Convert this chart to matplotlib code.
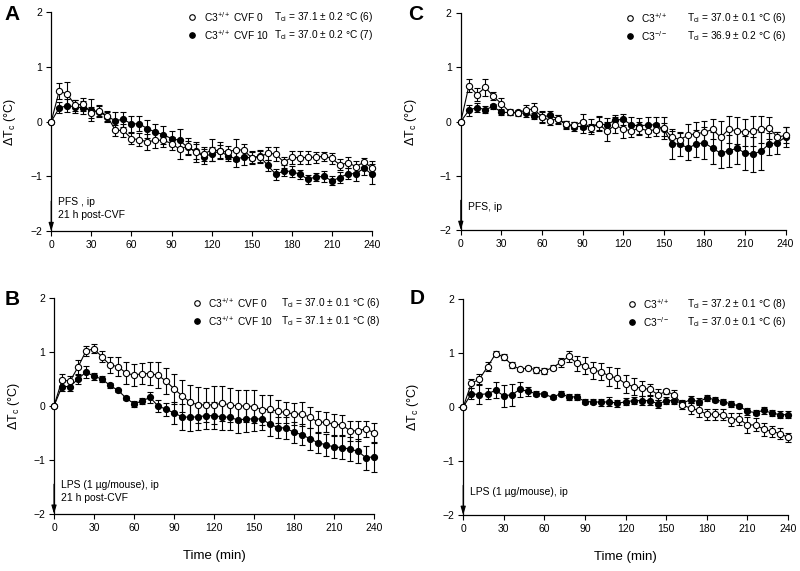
import matplotlib
matplotlib.use('Agg')
import matplotlib.pyplot as plt
import numpy as np

plt.rcParams['font.family'] = ['Liberation Sans', 'DejaVu Sans']
plt.rcParams['mathtext.default'] = 'regular'

# time points (min), every 6 min
t = list(range(0, 241, 6))

# panel A: PFS, CVF 0 (open) vs CVF 10 (filled)
a_open = [0, 0.56, 0.50, 0.30, 0.32, 0.16, 0.20, 0.10, -0.16, -0.16, -0.31, -0.33, -0.37, -0.34,
          -0.34, -0.40, -0.50, -0.45, -0.56, -0.59, -0.52, -0.53, -0.56, -0.51, -0.52, -0.66,
          -0.64, -0.58, -0.59, -0.74, -0.65, -0.66, -0.65, -0.65, -0.63, -0.67, -0.79, -0.75,
          -0.82, -0.74, -0.84]
a_open_err = [0, 0.14, 0.22, 0.1, 0.12, 0.1, 0.1, 0.08, 0.1, 0.12, 0.1, 0.12, 0.14, 0.15, 0.12,
              0.12, 0.18, 0.15, 0.18, 0.12, 0.2, 0.15, 0.12, 0.2, 0.12, 0.1, 0.12, 0.12, 0.12,
              0.1, 0.12, 0.12, 0.12, 0.1, 0.08, 0.1, 0.1, 0.1, 0.1, 0.08, 0.12]
a_fill = [0, 0.25, 0.29, 0.27, 0.25, 0.21, 0.18, 0.09, 0.02, 0.04, -0.04, -0.04, -0.13, -0.19,
          -0.24, -0.31, -0.34, -0.47, -0.54, -0.64, -0.59, -0.54, -0.62, -0.68, -0.65, -0.66,
          -0.63, -0.80, -0.96, -0.90, -0.91, -0.96, -1.05, -1.01, -1.00, -1.08, -1.02, -0.95,
          -0.95, -0.85, -0.96]
a_fill_err = [0, 0.1, 0.12, 0.12, 0.12, 0.2, 0.1, 0.1, 0.15, 0.14, 0.15, 0.14, 0.16, 0.14, 0.16,
              0.14, 0.2, 0.12, 0.14, 0.14, 0.12, 0.12, 0.1, 0.14, 0.14, 0.12, 0.1, 0.1, 0.1, 0.1,
              0.1, 0.08, 0.08, 0.08, 0.1, 0.08, 0.1, 0.1, 0.14, 0.12, 0.18]

# panel B: LPS, CVF 0 vs CVF 10
b_open = [0, 0.48, 0.46, 0.72, 1.02, 1.06, 0.91, 0.76, 0.73, 0.61, 0.57, 0.60, 0.60, 0.57,
          0.46, 0.32, 0.19, 0.07, 0.02, 0.02, 0.02, 0.05, 0.02, 0.0, 0.0, -0.01, -0.07, -0.06,
          -0.10, -0.12, -0.15, -0.15, -0.21, -0.30, -0.30, -0.34, -0.35, -0.46, -0.46, -0.42,
          -0.50]
b_open_err = [0, 0.12, 0.1, 0.14, 0.1, 0.08, 0.1, 0.15, 0.18, 0.2, 0.2, 0.2, 0.22, 0.24, 0.24,
              0.28, 0.3, 0.32, 0.34, 0.32, 0.35, 0.32, 0.32, 0.3, 0.3, 0.3, 0.28, 0.26, 0.22,
              0.2, 0.2, 0.22, 0.2, 0.2, 0.18, 0.2, 0.18, 0.18, 0.18, 0.15, 0.18]
b_fill = [0, 0.36, 0.36, 0.50, 0.63, 0.55, 0.50, 0.38, 0.29, 0.15, 0.04, 0.09, 0.16, 0.0,
          -0.06, -0.13, -0.20, -0.21, -0.20, -0.18, -0.18, -0.20, -0.21, -0.26, -0.24, -0.24,
          -0.24, -0.34, -0.40, -0.41, -0.49, -0.53, -0.61, -0.68, -0.72, -0.76, -0.77, -0.80,
          -0.84, -0.96, -0.94]
b_fill_err = [0, 0.08, 0.08, 0.1, 0.12, 0.07, 0.05, 0.05, 0.03, 0.03, 0.05, 0.06, 0.1, 0.12,
              0.12, 0.2, 0.24, 0.25, 0.25, 0.25, 0.25, 0.24, 0.24, 0.24, 0.24, 0.22, 0.2, 0.22,
              0.2, 0.2, 0.2, 0.2, 0.2, 0.2, 0.2, 0.2, 0.22, 0.22, 0.22, 0.22, 0.28]

# panel C: PFS, C3+/+ vs C3-/-
c_open = [0, 0.66, 0.50, 0.63, 0.47, 0.33, 0.18, 0.15, 0.22, 0.23, 0.09, 0.02, 0.05, -0.05,
          -0.07, 0.0, -0.12, -0.04, -0.18, -0.06, -0.14, -0.17, -0.12, -0.17, -0.15, -0.12,
          -0.29, -0.33, -0.25, -0.22, -0.20, -0.14, -0.29, -0.14, -0.17, -0.20, -0.17, -0.14,
          -0.12, -0.29, -0.25]
c_open_err = [0, 0.12, 0.12, 0.15, 0.08, 0.1, 0.05, 0.05, 0.08, 0.12, 0.1, 0.08, 0.08, 0.06,
              0.06, 0.14, 0.08, 0.14, 0.18, 0.15, 0.16, 0.12, 0.12, 0.12, 0.12, 0.2, 0.12, 0.12,
              0.2, 0.22, 0.22, 0.18, 0.3, 0.25, 0.25, 0.25, 0.28, 0.25, 0.2, 0.1, 0.15]
c_fill = [0, 0.21, 0.26, 0.22, 0.28, 0.17, 0.17, 0.17, 0.15, 0.10, 0.08, 0.12, 0.04, -0.06,
          -0.09, -0.09, -0.09, -0.04, -0.06, 0.03, 0.04, -0.06, -0.08, -0.06, -0.06, -0.14,
          -0.41, -0.41, -0.49, -0.41, -0.39, -0.49, -0.58, -0.54, -0.49, -0.58, -0.60, -0.54,
          -0.41, -0.39, -0.28]
c_fill_err = [0, 0.1, 0.08, 0.06, 0.05, 0.04, 0.05, 0.05, 0.06, 0.05, 0.1, 0.08, 0.08, 0.08,
              0.08, 0.12, 0.14, 0.12, 0.12, 0.1, 0.1, 0.14, 0.14, 0.15, 0.14, 0.12, 0.28, 0.22,
              0.22, 0.25, 0.3, 0.3, 0.28, 0.3, 0.3, 0.32, 0.32, 0.35, 0.2, 0.2, 0.18]

# panel D: LPS, C3+/+ vs C3-/-
d_open = [0, 0.44, 0.52, 0.75, 0.99, 0.93, 0.78, 0.70, 0.73, 0.69, 0.67, 0.73, 0.83, 0.94,
          0.81, 0.77, 0.68, 0.66, 0.57, 0.54, 0.43, 0.38, 0.35, 0.33, 0.23, 0.29, 0.23, 0.04,
          -0.02, -0.06, -0.13, -0.13, -0.14, -0.23, -0.22, -0.33, -0.33, -0.41, -0.45, -0.49,
          -0.56]
d_open_err = [0, 0.08, 0.1, 0.08, 0.05, 0.05, 0.05, 0.03, 0.03, 0.05, 0.05, 0.05, 0.08, 0.1,
              0.14, 0.15, 0.15, 0.15, 0.18, 0.18, 0.16, 0.16, 0.14, 0.1, 0.1, 0.05, 0.08, 0.08,
              0.1, 0.12, 0.1, 0.1, 0.1, 0.12, 0.12, 0.15, 0.12, 0.12, 0.1, 0.1, 0.08]
d_fill = [0, 0.25, 0.23, 0.25, 0.31, 0.21, 0.23, 0.33, 0.29, 0.25, 0.24, 0.18, 0.25, 0.19,
          0.19, 0.10, 0.10, 0.09, 0.10, 0.07, 0.10, 0.12, 0.12, 0.12, 0.06, 0.12, 0.12, 0.07,
          0.14, 0.10, 0.17, 0.14, 0.10, 0.06, 0.02, -0.08, -0.10, -0.06, -0.11, -0.14, -0.14]
d_fill_err = [0, 0.1, 0.18, 0.1, 0.15, 0.2, 0.2, 0.14, 0.08, 0.05, 0.04, 0.03, 0.04, 0.06,
              0.05, 0.05, 0.05, 0.06, 0.08, 0.07, 0.06, 0.06, 0.08, 0.08, 0.08, 0.06, 0.06, 0.06,
              0.06, 0.06, 0.06, 0.05, 0.05, 0.05, 0.04, 0.06, 0.05, 0.06, 0.06, 0.06, 0.06]

xticks = [0, 30, 60, 90, 120, 150, 180, 210, 240]
yticks = [-2, -1, 0, 1, 2]

panels = [
    # letter, letter pos, rect, series, legend labels, note, legend x, ylabel x, has xlabel
    ('A', (0.005, 0.975), [0.064, 0.595, 0.401, 0.384], a_open, a_open_err, a_fill, a_fill_err,
     ['C3$^{+/+}$ CVF 0', 'C3$^{+/+}$ CVF 10'],
     ['T$_{ci}$ = 37.1 ± 0.2 °C (6)', 'T$_{ci}$ = 37.0 ± 0.2 °C (7)'],
     'PFS , ip\n21 h post-CVF', (0.44, 0.475, 0.695), -0.103, False),
    ('B', (0.006, 0.475), [0.0675, 0.10, 0.400, 0.378], b_open, b_open_err, b_fill, b_fill_err,
     ['C3$^{+/+}$ CVF 0', 'C3$^{+/+}$ CVF 10'],
     ['T$_{ci}$ = 37.0 ± 0.1 °C (6)', 'T$_{ci}$ = 37.1 ± 0.1 °C (8)'],
     'LPS (1 µg/mouse), ip\n21 h post-CVF', (0.447, 0.482, 0.71), -0.10, True),
    ('C', (0.51, 0.975), [0.576, 0.597, 0.406, 0.380], c_open, c_open_err, c_fill, c_fill_err,
     ['C3$^{+/+}$', 'C3$^{-/-}$'],
     ['T$_{ci}$ = 37.0 ± 0.1 °C (6)', 'T$_{ci}$ = 36.9 ± 0.2 °C (6)'],
     'PFS, ip', (0.52, 0.555, 0.695), -0.13, False),
    ('D', (0.512, 0.478), [0.579, 0.098, 0.406, 0.378], d_open, d_open_err, d_fill, d_fill_err,
     ['C3$^{+/+}$', 'C3$^{-/-}$'],
     ['T$_{ci}$ = 37.2 ± 0.1 °C (8)', 'T$_{ci}$ = 37.0 ± 0.1 °C (6)'],
     'LPS (1 µg/mouse), ip', (0.52, 0.555, 0.69), -0.13, True),
]

fig = plt.figure(figsize=(8, 5.71), dpi=100)

for letter, lpos, rect, yo, eo, yf, ef, labs, tcis, note, lx, ylx, bottom in panels:
    ax = fig.add_axes(rect)
    ax.errorbar(t, yf, yerr=ef, fmt='-o', color='black', lw=0.8, ms=4.2,
                mfc='black', mec='black', elinewidth=0.8, capsize=2.2, capthick=0.8,
                clip_on=False, zorder=2)
    ax.errorbar(t, yo, yerr=eo, fmt='-o', color='black', lw=0.8, ms=4.5,
                mfc='white', mec='black', mew=0.8, elinewidth=0.8, capsize=2.2,
                capthick=0.8, clip_on=False, zorder=3)
    ax.set_xlim(0, 240)
    ax.set_ylim(-2, 2)
    ax.set_xticks(xticks)
    ax.set_yticks(yticks)
    ax.tick_params(direction='out', length=3.5, width=0.8, labelsize=7.5, pad=3)
    for s in ['top', 'right']:
        ax.spines[s].set_visible(False)
    ax.spines['left'].set_linewidth(0.9)
    ax.spines['bottom'].set_linewidth(0.9)
    ax.set_ylabel('ΔT$_c$ (°C)', fontsize=9)
    ax.yaxis.set_label_coords(ylx, 0.5)
    if bottom:
        ax.set_xlabel('Time (min)', fontsize=9.5, labelpad=12)

    # legend drawn by hand
    for i, (lab, tci) in enumerate(zip(labs, tcis)):
        yy = 0.977 - i * 0.083
        ax.plot([lx[0]], [yy], 'o', transform=ax.transAxes, ms=4, mec='black', mew=0.8,
                mfc='white' if i == 0 else 'black', clip_on=False)
        ax.text(lx[1], yy, lab, transform=ax.transAxes, fontsize=7.3, va='center')
        ax.text(lx[2], yy, tci, transform=ax.transAxes, fontsize=7.3, va='center')

    # injection arrow and note
    ax.annotate('', xy=(0, -2), xytext=(0, -1.45),
                arrowprops=dict(arrowstyle='-|>,head_width=0.15,head_length=0.5',
                                color='black', lw=0.8, shrinkA=0, shrinkB=0))
    ax.text(5, -1.38 if '\n' in note else -1.48, note, fontsize=7.5, va='top',
            linespacing=1.35)

    fig.text(lpos[0], lpos[1], letter, fontsize=15, fontweight='bold',
             va='center', ha='left')

fig.savefig('out.png', dpi=100)
